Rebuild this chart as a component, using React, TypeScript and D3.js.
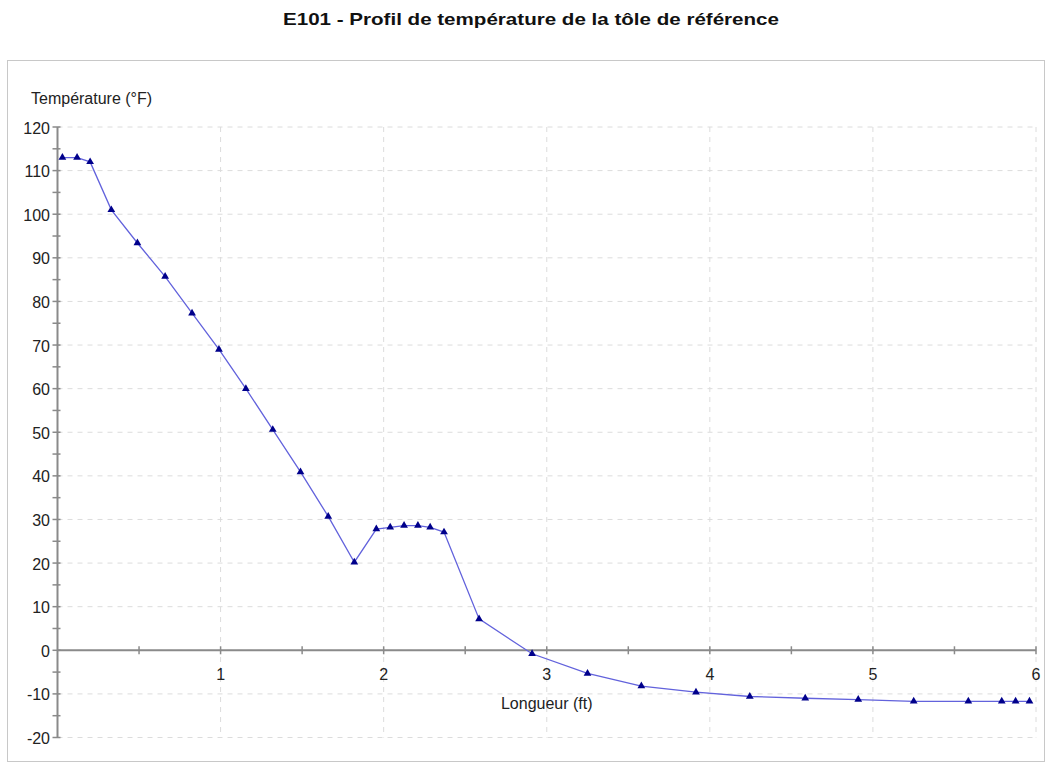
import React from 'react';
import * as d3 from 'd3';

const title = 'E101 - Profil de température de la tôle de référence';
const xLabel = 'Longueur (ft)';
const yLabel = 'Température (°F)';

// longueur (ft)
const lengths = [
  0.03, 0.12, 0.2, 0.33, 0.49, 0.66, 0.825, 0.99, 1.155, 1.32, 1.49, 1.66,
  1.82, 1.955, 2.04, 2.125, 2.21, 2.285, 2.37, 2.585, 2.91, 3.25, 3.58,
  3.915, 4.245, 4.585, 4.91, 5.25, 5.585, 5.79, 5.875, 5.96,
];
// température (°F)
const temps = [
  113, 113, 112, 101, 93.4, 85.7, 77.3, 69, 60, 50.6, 40.9, 30.7,
  20.2, 27.8, 28.2, 28.6, 28.6, 28.2, 27.1, 7.2, -0.8, -5.3, -8.2,
  -9.6, -10.6, -11.0, -11.3, -11.7, -11.7, -11.7, -11.7, -11.7,
];

const xTicks = [1, 2, 3, 4, 5, 6];
const yTicks = [-20, -10, 0, 10, 20, 30, 40, 50, 60, 70, 80, 90, 100, 110, 120];

const W = 1048;
const H = 766;
const font = '"Liberation Sans", Arial, sans-serif';

export default function App() {
  const x = d3.scaleLinear().domain([0, 6]).range([57.5, 1036]);
  const y = d3.scaleLinear().domain([-20, 120]).range([737.5, 127]);

  const points = lengths.map((l, i) => ({ l, t: temps[i] }));
  const line = d3
    .line<{ l: number; t: number }>()
    .x((d) => x(d.l))
    .y((d) => y(d.t));
  const tri = d3.symbol().type(d3.symbolTriangle).size(26)() as string;

  const xMinor = d3.range(0.5, 6.01, 0.5);
  const yMinor = d3.range(-20, 120.01, 5);
  const y0 = y(0);

  return (
    <svg
      width={W}
      height={H}
      style={{ position: 'absolute', left: 0, top: 0, background: '#fff' }}
      fontFamily={font}
    >
      <text
        x={531}
        y={25}
        textAnchor="middle"
        fontSize={17}
        fontWeight="bold"
        fill="#111"
        textLength={496}
        lengthAdjust="spacingAndGlyphs"
      >
        {title}
      </text>
      <rect x={7.5} y={60.5} width={1037} height={701} fill="none" stroke="#c8c8c8" />

      {/* grille */}
      <g stroke="#dcdcdc" strokeDasharray="5,5" strokeWidth={1}>
        {yTicks.map((v) => (
          <line key={'gy' + v} x1={x(0)} x2={x(6)} y1={y(v)} y2={y(v)} />
        ))}
        {xTicks.map((v) => (
          <line key={'gx' + v} x1={x(v)} x2={x(v)} y1={y(120)} y2={y(-20)} />
        ))}
      </g>

      {/* axes */}
      <g stroke="#8a8a8a">
        <line x1={x(0)} x2={x(0)} y1={y(120)} y2={y(-20)} strokeWidth={2} />
        <line x1={x(0)} x2={x(6)} y1={y0} y2={y0} strokeWidth={2} />
        {yMinor.map((v) => (
          <line key={'ty' + v} x1={x(0) - 5} x2={x(0) + 3} y1={y(v)} y2={y(v)} strokeWidth={1.5} />
        ))}
        {xMinor.map((v) => (
          <line key={'tx' + v} x1={x(v)} x2={x(v)} y1={y0 - 4} y2={y0 + 4} strokeWidth={1.5} />
        ))}
      </g>

      <g fontSize={16} fill="#222">
        {yTicks.map((v) => (
          <text key={'ly' + v} x={50} y={y(v) + 6.5} textAnchor="end">
            {v}
          </text>
        ))}
        {xTicks.map((v) => (
          <text key={'lx' + v} x={x(v)} y={y0 + 30} textAnchor="middle">
            {v}
          </text>
        ))}
      </g>

      <text x={31} y={104} fontSize={16} fill="#222">
        {yLabel}
      </text>
      <text x={(x(0) + x(6)) / 2} y={709} textAnchor="middle" fontSize={16} fill="#222">
        {xLabel}
      </text>

      <path d={line(points) || ''} fill="none" stroke="#6262dc" strokeWidth={1.3} />
      <g fill="#00008b">
        {points.map((p, i) => (
          <path key={i} d={tri} transform={`translate(${x(p.l)},${y(p.t)})`} />
        ))}
      </g>
    </svg>
  );
}
